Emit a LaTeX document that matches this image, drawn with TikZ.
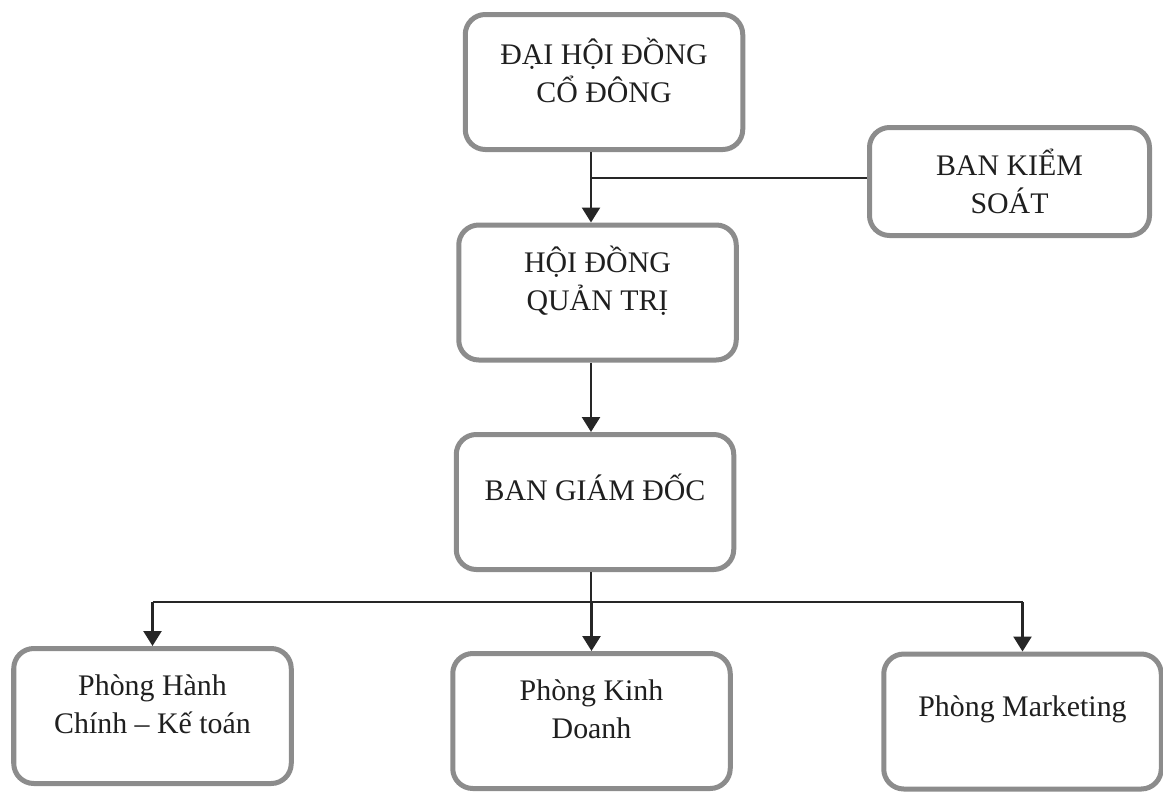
\documentclass[tikz,border=0pt]{standalone}
\usepackage{fontspec}
\setmainfont{Liberation Serif}
\usetikzlibrary{arrows.meta}
\tikzset{box/.style={rectangle,rounded corners=0.4cm,draw=black!45,line width=0.1cm,minimum width=5.55cm,minimum height=2.7cm}}
\tikzset{txt/.style={align=center,font=\fontsize{17}{21.5}\selectfont,text=black!88,yshift=0.24cm}}
\tikzset{link/.style={line width=0.05cm,draw=black!85}}

\begin{document}
\begin{tikzpicture}[>={Triangle[width=0.36cm,length=0.3cm]}]
      \useasboundingbox (0,0) rectangle (23.26,-15.84);
      \node[box,label={[txt]center:{ĐẠI HỘI ĐỒNG\\CỔ ĐÔNG}}] (DH) at (12.08,-1.64) {};
      \node[box,minimum width=5.6cm,minimum height=2.16cm,label={[txt,yshift=-0.24cm]center:{BAN KIỂM\\SOÁT}}] (BKS) at (20.19,-3.63) {};
      \node[box,label={[txt]center:{HỘI ĐỒNG\\QUẢN TRỊ}}] (HD) at (11.95,-5.85) {};
      \node[box,label={[txt,yshift=0.06cm]center:{BAN GIÁM ĐỐC}}] (BGD) at (11.9,-10.04) {};
      \node[box,label={[txt]center:{Phòng Hành\\Chính – Kế toán}}] (HC) at (3.05,-14.32) {};
      \node[box,label={[txt]center:{Phòng Kinh\\Doanh}}] (KD) at (11.83,-14.42) {};
      \node[box,label={[txt]center:{Phòng Marketing}}] (MK) at (20.45,-14.43) {};
      \coordinate (J) at (11.82,-3.56);
      \coordinate (S) at (11.82,-12.04);
      \draw[link,->] (DH.south -| J) -- (HD.north -| J);
      \draw[link] (J) -- (J -| BKS.west);
      \draw[link,->] (HD.south -| J) -- (BGD.north -| J);
      \draw[link] (BGD.south -| S) -- (S);
      \draw[link] (S -| HC.north) -- (S -| MK.north);
      \foreach \b in {HC,KD,MK}
        \draw[link,->] (S -| \b.north) -- (\b.north);
    \end{tikzpicture}
\end{document}
